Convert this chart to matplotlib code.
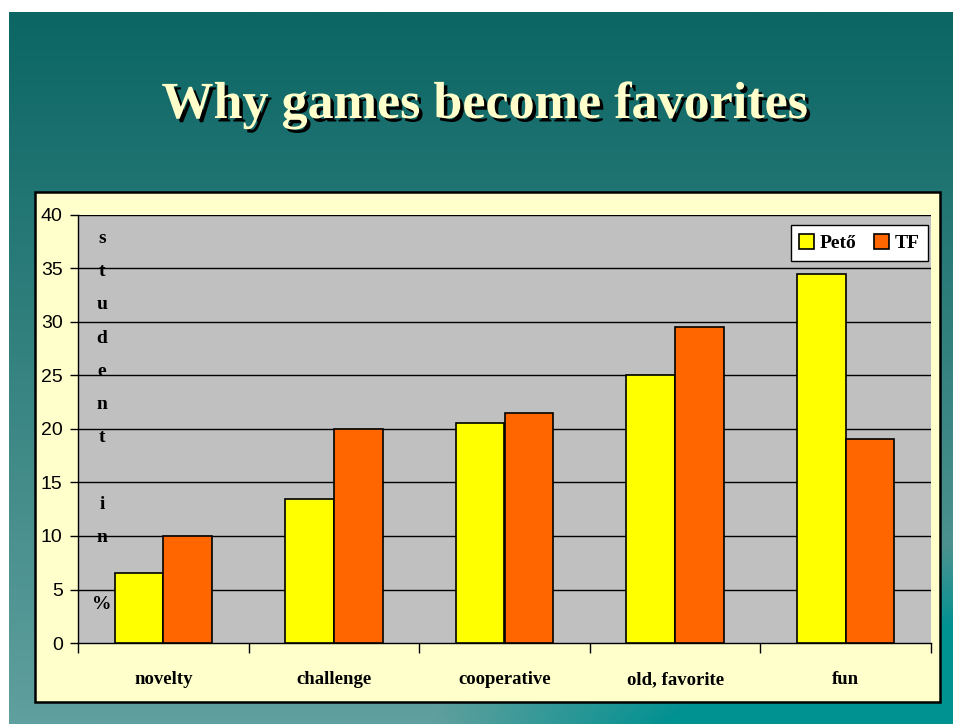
"""Why games become favorites - grouped bar chart on a slide-like background."""

import matplotlib

matplotlib.use("Agg")
import matplotlib.pyplot as plt  # noqa: E402
import matplotlib.patheffects as pe  # noqa: E402
import numpy as np  # noqa: E402
from matplotlib.patches import Patch, Rectangle  # noqa: E402

categories = ["novelty", "challenge", "cooperative", "old, favorite", "fun"]
peto = [6.5, 13.5, 20.6, 25.0, 34.5]
tf = [10.0, 20.0, 21.5, 29.5, 19.1]
series_names = ["Pető", "TF"]
yticks = [0, 5, 10, 15, 20, 25, 30, 35, 40]

YELLOW = "#FFFF00"
ORANGE = "#FF6600"
SERIF = "Liberation Serif"
SANS = "Liberation Sans"

W, H = 954, 724
fig = plt.figure(figsize=(W / 100, H / 100), dpi=100)
fig.patch.set_facecolor("white")

# slide background: vertical teal gradient, brighter teal towards bottom right
bg = fig.add_axes([9 / W, 0, 1 - 9 / W, 1 - 12 / H])
bg.set_zorder(-2)
yy, xx = np.mgrid[0:1:300j, 0:1:300j]
top = np.array([11, 102, 100]) / 255
bot = np.array([96, 160, 158]) / 255
img = top * (1 - yy[..., None]) + bot * yy[..., None]
teal = np.array([0, 145, 145]) / 255
w = np.clip((xx - 0.45) / 0.55, 0, 1) * np.clip((yy - 0.75) / 0.25, 0, 1)
w = np.clip(w * 2.2, 0, 1)[..., None]
img = img * (1 - w) + teal * w
bg.imshow(img, aspect="auto", extent=[0, 1, 0, 1], origin="upper")
bg.set_axis_off()

# chart panel
fig.patches.append(
    Rectangle(
        (35 / W, 1 - 702 / H),
        (940 - 35) / W,
        (702 - 192) / H,
        transform=fig.transFigure,
        facecolor="#FFFFCC",
        edgecolor="black",
        linewidth=1.8,
        zorder=-1,
    )
)

ax = fig.add_axes([78 / W, 1 - 643 / H, (931 - 78) / W, (643 - 215) / H])
ax.set_zorder(2)
ax.set_facecolor("#C0C0C0")
x = np.arange(len(categories))
bw = 0.285
ax.bar(x - bw / 2, peto, bw, color=YELLOW, edgecolor="black", linewidth=1.2, zorder=3)
ax.bar(x + bw / 2, tf, bw, color=ORANGE, edgecolor="black", linewidth=1.2, zorder=3)

ax.set_xlim(-0.5, len(categories) - 0.5)
ax.set_ylim(0, 40)
ax.set_yticks(yticks)
ax.set_yticklabels([str(v) for v in yticks], fontfamily=SANS, fontsize=14)
ax.tick_params(axis="y", direction="out", length=6, width=1, pad=5)
for v in yticks[1:]:
    ax.axhline(v, color="black", linewidth=1, zorder=2)

ax.set_xticks(x)
ax.set_xticklabels(categories, fontfamily=SERIF, fontweight="bold", fontsize=13.5)
ax.tick_params(axis="x", length=0, pad=20)
ax.set_xticks(np.arange(len(categories) + 1) - 0.5, minor=True)
ax.tick_params(axis="x", which="minor", direction="out", length=7, width=1)

for side in ("top", "right"):
    ax.spines[side].set_visible(False)
for side in ("left", "bottom"):
    ax.spines[side].set_color("black")
    ax.spines[side].set_linewidth(1)

ax.text(
    0.028,
    0.518,
    "s\nt\nu\nd\ne\nn\nt\n \ni\nn\n \n%",
    transform=ax.transAxes,
    ha="center",
    va="center",
    fontfamily=SERIF,
    fontweight="bold",
    fontsize=14,
    linespacing=2.25,
    zorder=4,
)

handles = [
    Patch(facecolor=YELLOW, edgecolor="black", linewidth=1.2),
    Patch(facecolor=ORANGE, edgecolor="black", linewidth=1.2),
]
leg = ax.legend(
    handles,
    series_names,
    loc="upper right",
    bbox_to_anchor=(0.9965, 0.977),
    borderaxespad=0,
    ncol=2,
    frameon=True,
    fancybox=False,
    handlelength=0.75,
    handleheight=0.85,
    handletextpad=0.3,
    columnspacing=0.9,
    borderpad=0.45,
    prop={"family": SERIF, "weight": "bold", "size": 14},
)
leg.get_frame().set_edgecolor("black")
leg.get_frame().set_facecolor("white")
leg.get_frame().set_linewidth(1)
leg.get_frame().set_alpha(1)
leg.set_zorder(5)

fig.text(
    485 / W,
    1 - 105 / H,
    "Why games become favorites",
    ha="center",
    va="center",
    fontfamily=SERIF,
    fontweight="bold",
    fontsize=37.5,
    color="#FFFFCC",
    path_effects=[
        pe.withSimplePatchShadow(offset=(2.5, -2.5), shadow_rgbFace="black", alpha=1)
    ],
)

fig.savefig("out.png", dpi=100)
